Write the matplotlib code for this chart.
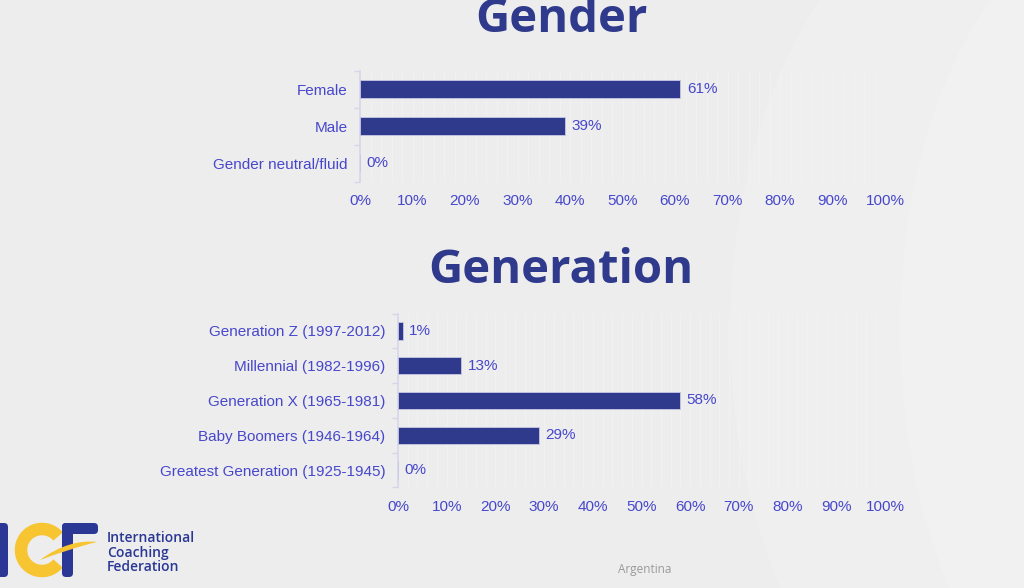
import matplotlib
matplotlib.use("Agg")
import matplotlib.pyplot as plt
from matplotlib.patches import Ellipse, FancyBboxPatch, Arc, Rectangle
from matplotlib.path import Path
from matplotlib.patches import PathPatch
import numpy as np

gender_cats = ["Female", "Male", "Gender neutral/fluid"]
gender_vals = [61, 39, 0]
gen_cats = ["Generation Z (1997-2012)", "Millennial (1982-1996)", "Generation X (1965-1981)",
            "Baby Boomers (1946-1964)", "Greatest Generation (1925-1945)"]
gen_vals = [1, 13, 58, 29, 0]
x_ticks = list(range(0, 101, 10))
x_ticklabels = [f"{t}%" for t in x_ticks]

BG = "#ededed"
BAR = "#2f3a8c"
TXT = "#4747cc"
TITLE = "#2f3a8c"
SPINE = "#d6d6ea"
LOGO_BLUE = "#2a3795"
LOGO_YEL = "#f7c531"
FONT = "Liberation Sans"
FS = 11

fig = plt.figure(figsize=(10.24, 5.88), dpi=100, facecolor=BG)

# faint background curves
bgax = fig.add_axes([0, 0, 1, 1], zorder=-10)
bgax.set_xlim(0, 1024); bgax.set_ylim(588, 0); bgax.axis("off")
bgax.add_patch(Ellipse((1010, 330), 560, 900, facecolor="#efefef", edgecolor="none"))
bgax.add_patch(Ellipse((1110, 330), 420, 800, facecolor="#f1f1f1", edgecolor="none"))

# logo shapes (pixel coordinates)
lg = fig.add_axes([0, 0, 1, 1], zorder=5)
lg.set_xlim(0, 1024); lg.set_ylim(588, 0); lg.axis("off")
lg.add_patch(FancyBboxPatch((-6, 523), 14, 54, boxstyle="round,pad=0,rounding_size=4",
                            facecolor=LOGO_BLUE, edgecolor="none"))
lg.add_patch(Arc((42, 550), 42, 42, theta1=40, theta2=320, lw=9, color=LOGO_YEL))
lg.add_patch(FancyBboxPatch((62, 523), 11, 54, boxstyle="round,pad=0,rounding_size=4",
                            facecolor=LOGO_BLUE, edgecolor="none"))
lg.add_patch(FancyBboxPatch((62, 523), 36, 11, boxstyle="round,pad=0,rounding_size=4",
                            facecolor=LOGO_BLUE, edgecolor="none"))
sw = Path([(40, 560), (60, 545), (80, 540), (97, 542), (80, 546), (62, 552), (40, 560)],
          [Path.MOVETO, Path.CURVE4, Path.CURVE4, Path.CURVE4, Path.CURVE4, Path.CURVE4, Path.CURVE4])
lg.add_patch(PathPatch(sw, facecolor=LOGO_YEL, edgecolor="none"))

def draw(ax, cats, vals):
    y = np.arange(len(cats))
    ax.set_facecolor("none")
    ax.barh(y, vals, height=0.5, color=BAR, edgecolor="#c8c8e6", linewidth=0.6, zorder=3)
    ax.set_xlim(0, 100)
    ax.set_ylim(len(cats) - 0.5, -0.5)
    ax.set_yticks(y)
    ax.set_yticklabels(cats, fontsize=FS, color=TXT, family=FONT)
    ax.set_xticks(x_ticks)
    ax.set_xticklabels(x_ticklabels, fontsize=FS, color=TXT, family=FONT)
    ax.set_yticks(np.arange(len(cats) + 1) - 0.5, minor=True)
    ax.tick_params(axis="y", which="major", length=0, pad=9)
    ax.tick_params(axis="y", which="minor", length=4, color=SPINE, width=1)
    ax.tick_params(axis="x", length=0, pad=9)
    for s in ["top", "right", "bottom"]:
        ax.spines[s].set_visible(False)
    ax.spines["left"].set_color(SPINE)
    ax.spines["left"].set_linewidth(1.2)
    for g in range(2, 101, 2):
        ax.axvline(g, color="white", lw=0.6, alpha=0.28, zorder=1)
    for yi, v in zip(y, vals):
        ax.text(v + 1.3, yi, f"{v}%", va="center", ha="left", fontsize=FS,
                color=TXT, family=FONT, zorder=4)

ax1 = fig.add_axes([360/1024, 0.6913, 525/1024, 0.1887])
draw(ax1, gender_cats, gender_vals)
ax2 = fig.add_axes([398/1024, 0.1711, 487/1024, 0.2956])
draw(ax2, gen_cats, gen_vals)

fig.text(561/1024, 1 - 32/588, "Gender", ha="center", va="baseline", fontsize=34,
         fontweight="bold", color=TITLE, family="Open Sans")
fig.text(561/1024, 1 - 283/588, "Generation", ha="center", va="baseline", fontsize=34,
         fontweight="bold", color=TITLE, family="Open Sans")

for i, w in enumerate(["International", "Coaching", "Federation"]):
    fig.text(107/1024, 1 - (538 + 14.5 * i)/588, w, ha="left", va="center", fontsize=10,
             color=LOGO_BLUE, family="Open Sans", fontweight="semibold")

fig.text(645/1024, 1 - 570/588, "Argentina", ha="center", va="center", fontsize=8.5,
         color="#9a9a9a", family="Open Sans")

fig.savefig("out.png", dpi=100, facecolor=BG)
